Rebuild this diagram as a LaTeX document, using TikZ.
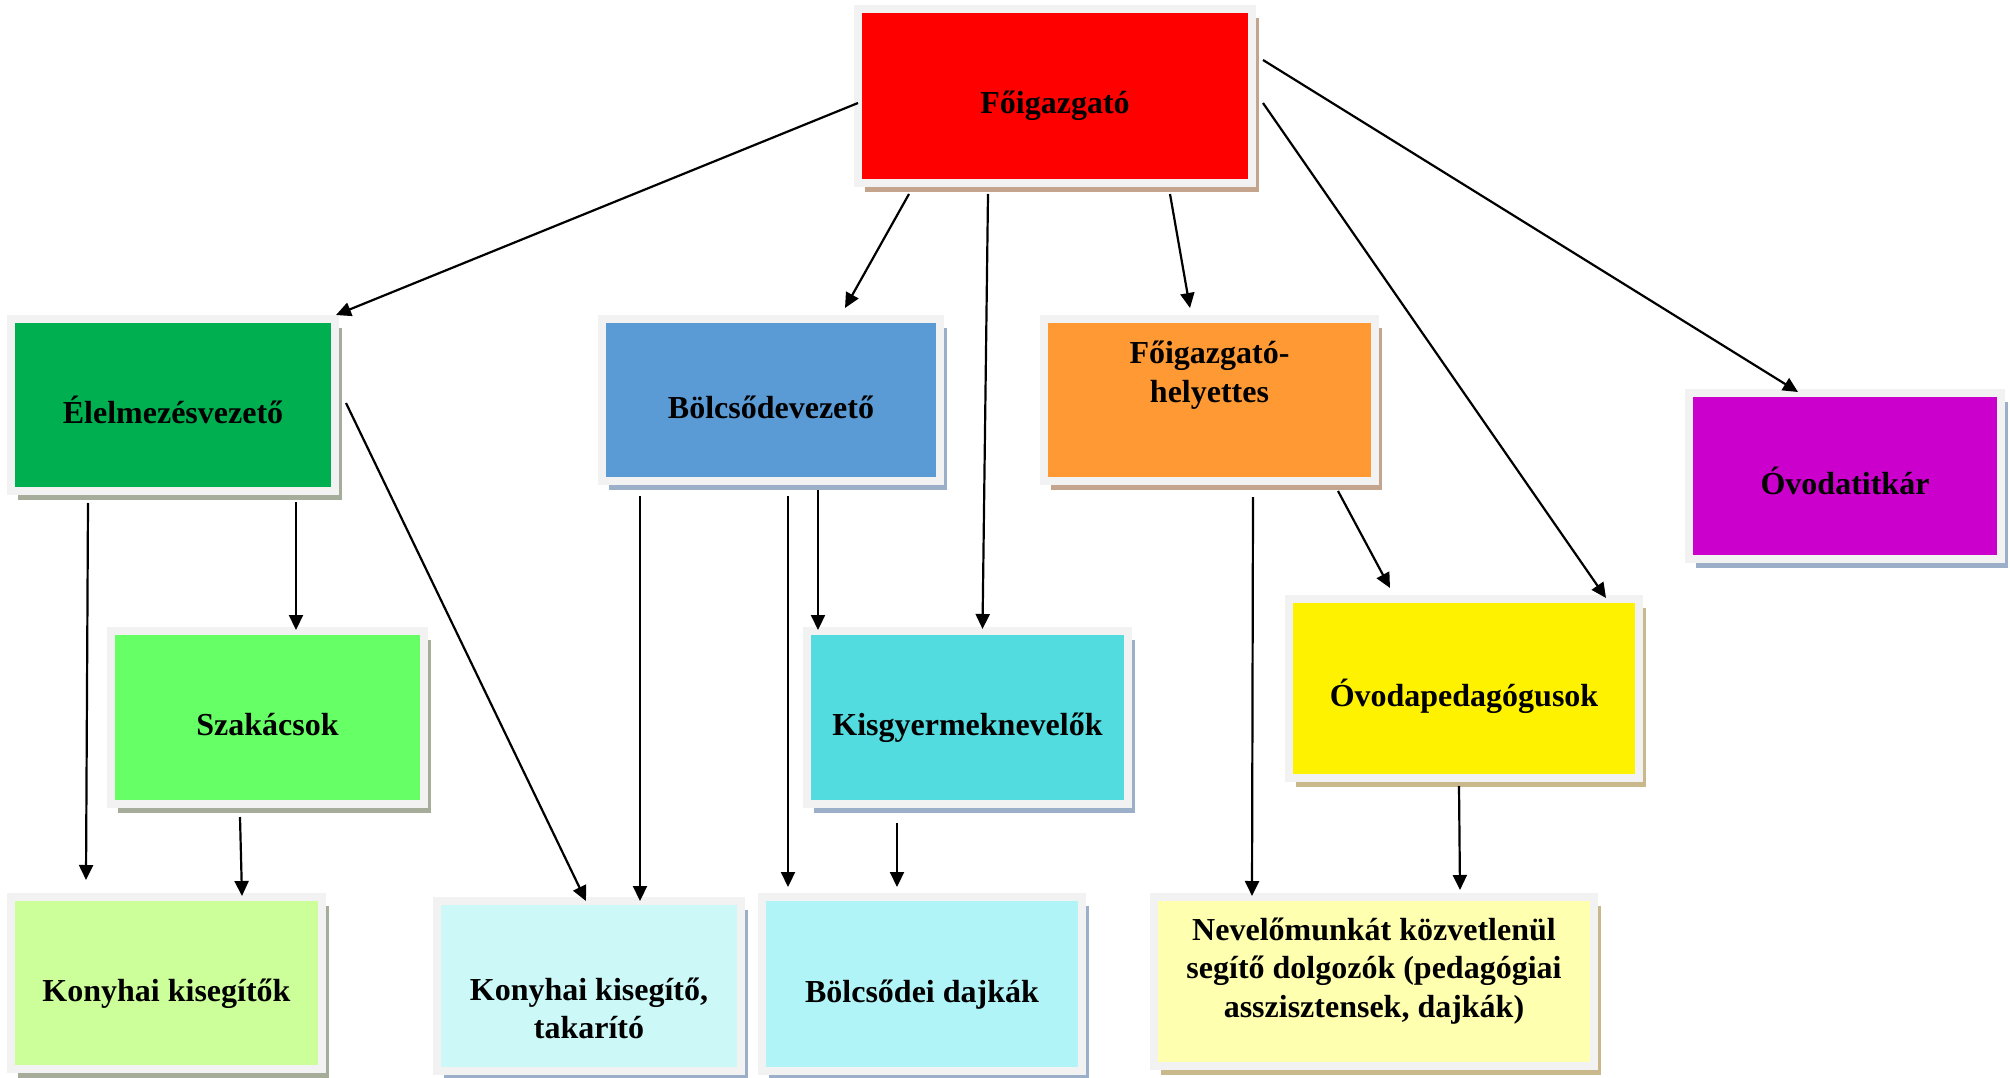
\documentclass[tikz,border=0pt]{standalone}
\usepackage{fontspec}
\setmainfont{Liberation Serif}
\usetikzlibrary{arrows.meta,shadows}

\definecolor{framegray}{HTML}{F2F2F2}
\definecolor{tanshade}{HTML}{C4A48C}
\definecolor{greenshade}{HTML}{A5AC9A}
\definecolor{blueshade}{HTML}{9BB0C8}
\definecolor{yellowshade}{HTML}{C8B88C}
\definecolor{elmgreen}{HTML}{00B050}
\definecolor{bolcsblue}{HTML}{5B9BD5}
\definecolor{hely}{HTML}{FF9933}
\definecolor{titkar}{HTML}{CC00CC}
\definecolor{szakgreen}{HTML}{66FF66}
\definecolor{kisgycyan}{HTML}{52DCDF}
\definecolor{konyhagreen}{HTML}{CCFF99}
\definecolor{takcyan}{HTML}{CCF8F8}
\definecolor{dajkacyan}{HTML}{B0F4F8}
\definecolor{nevyellow}{HTML}{FFFFB0}

\tikzset{
  orgbox/.style 2 args={draw=framegray, line width=8pt, fill=#1,
    drop shadow={shadow xshift=7pt, shadow yshift=-9pt, fill=#2, opacity=1},
    inner sep=0pt, align=center, text height=36pt, text depth=0pt,
    font=\bfseries\fontsize{32}{38.5}\selectfont},
  link/.style={->, line width=2.2pt}
}

\begin{document}
\begin{tikzpicture}[x=1pt, y=-1pt, >={Triangle[length=15pt,width=14pt]}]
    \useasboundingbox (0,0) rectangle (2010,1078);

    % Boxes
    \node[orgbox={red}{tanshade}, minimum width=394pt, minimum height=174pt] (fo) at (1055,96) {Főigazgató};
    \node[orgbox={elmgreen}{greenshade}, minimum width=324pt, minimum height=172pt] (elm) at (173,405) {Élelmezésvezető};
    \node[orgbox={bolcsblue}{blueshade}, minimum width=338pt, minimum height=162pt] (bolcsv) at (771,400) {Bölcsődevezető};
    \node[orgbox={hely}{tanshade}, minimum width=331pt, minimum height=162pt,
          text height=4pt, text depth=0pt] (helyettes) at (1209.5,400) {Főigazgató-\\helyettes};
    \node[orgbox={titkar}{blueshade}, minimum width=312pt, minimum height=166pt] (titkar) at (1845,476) {Óvodatitkár};
    \node[orgbox={szakgreen}{greenshade}, minimum width=313pt, minimum height=173pt] (szakacs) at (267.5,717.5) {Szakácsok};
    \node[orgbox={kisgycyan}{blueshade}, minimum width=321pt, minimum height=173pt] (kisgy) at (967.5,717.5) {Kisgyermeknevelők};
    \node[orgbox={yellow}{yellowshade}, minimum width=350pt, minimum height=179pt] (ovoped) at (1464,688.5) {Óvodapedagógusok};
    \node[orgbox={konyhagreen}{greenshade}, minimum width=311pt, minimum height=172pt] (konyha) at (166.5,983) {Konyhai kisegítők};
    \node[orgbox={takcyan}{blueshade}, minimum width=304pt, minimum height=170pt,
          text height=105pt, text depth=0pt] (takarito) at (589,986) {Konyhai kisegítő,\\takarító};
    \node[orgbox={dajkacyan}{blueshade}, minimum width=320pt, minimum height=174pt] (dajka) at (922,984) {Bölcsődei dajkák};
    \node[orgbox={nevyellow}{yellowshade}, minimum width=440pt, minimum height=169pt,
          text height=71pt, text depth=0pt] (nevelo) at (1374,981.5) {Nevelőmunkát közvetlenül\\segítő dolgozók (pedagógiai\\asszisztensek, dajkák)};

    % From the director
    \draw[link] ([xshift=4pt,yshift=-7pt]fo.west) -- ([xshift=-3pt]elm.north east);
    \draw[link] ([xshift=-146pt,yshift=-7pt]fo.south) -- ([xshift=74pt,yshift=7pt]bolcsv.north);
    \draw[link] ([xshift=-67pt,yshift=-7pt]fo.south) -- ([xshift=15pt,yshift=-2pt]kisgy.north);
    \draw[link] ([xshift=115pt,yshift=-7pt]fo.south) -- ([xshift=-19.5pt,yshift=7pt]helyettes.north);
    \draw[link] ([xshift=7pt,yshift=-7pt]fo.east) -- ([xshift=-37pt,yshift=-3pt]ovoped.north east);
    \draw[link] ([xshift=7pt,yshift=36pt]fo.east) -- ([xshift=-47pt,yshift=-3pt]titkar.north);

    % Kitchen
    \draw[link] ([xshift=-85pt,yshift=-8pt]elm.south) -- ([xshift=-80.5pt,yshift=13pt]konyha.north);
    \draw[link] ([xshift=123pt,yshift=-7pt]elm.south) -- ([xshift=28.5pt,yshift=-3pt]szakacs.north);
    \draw[link] ([xshift=7pt,yshift=2pt]elm.east) -- ([xshift=-3pt,yshift=-4pt]takarito.north);
    \draw[link] ([xshift=-27.5pt,yshift=-9pt]szakacs.south) -- ([xshift=75.5pt,yshift=-3pt]konyha.north);

    % Nursery
    \draw[link] ([xshift=-131pt,yshift=-11pt]bolcsv.south) -- ([xshift=51pt,yshift=-4pt]takarito.north);
    \draw[link] ([xshift=17pt,yshift=-11pt]bolcsv.south) -- ([xshift=-134pt,yshift=6pt]dajka.north);
    \draw[link] ([xshift=47pt,yshift=-5pt]bolcsv.south) -- ([xshift=-149.5pt,yshift=-3pt]kisgy.north);
    \draw[link] ([xshift=-70.5pt,yshift=-15pt]kisgy.south) -- ([xshift=-25pt,yshift=6pt]dajka.north);

    % Kindergarten
    \draw[link] ([xshift=43.5pt,yshift=-12pt]helyettes.south) -- ([xshift=-122pt,yshift=-3pt]nevelo.north);
    \draw[link] ([xshift=128.5pt,yshift=-6pt]helyettes.south) -- ([xshift=-74pt,yshift=7pt]ovoped.north);
    \draw[link] ([xshift=-5pt,yshift=-4pt]ovoped.south) -- ([xshift=86pt,yshift=3pt]nevelo.north);
\end{tikzpicture}
\end{document}
